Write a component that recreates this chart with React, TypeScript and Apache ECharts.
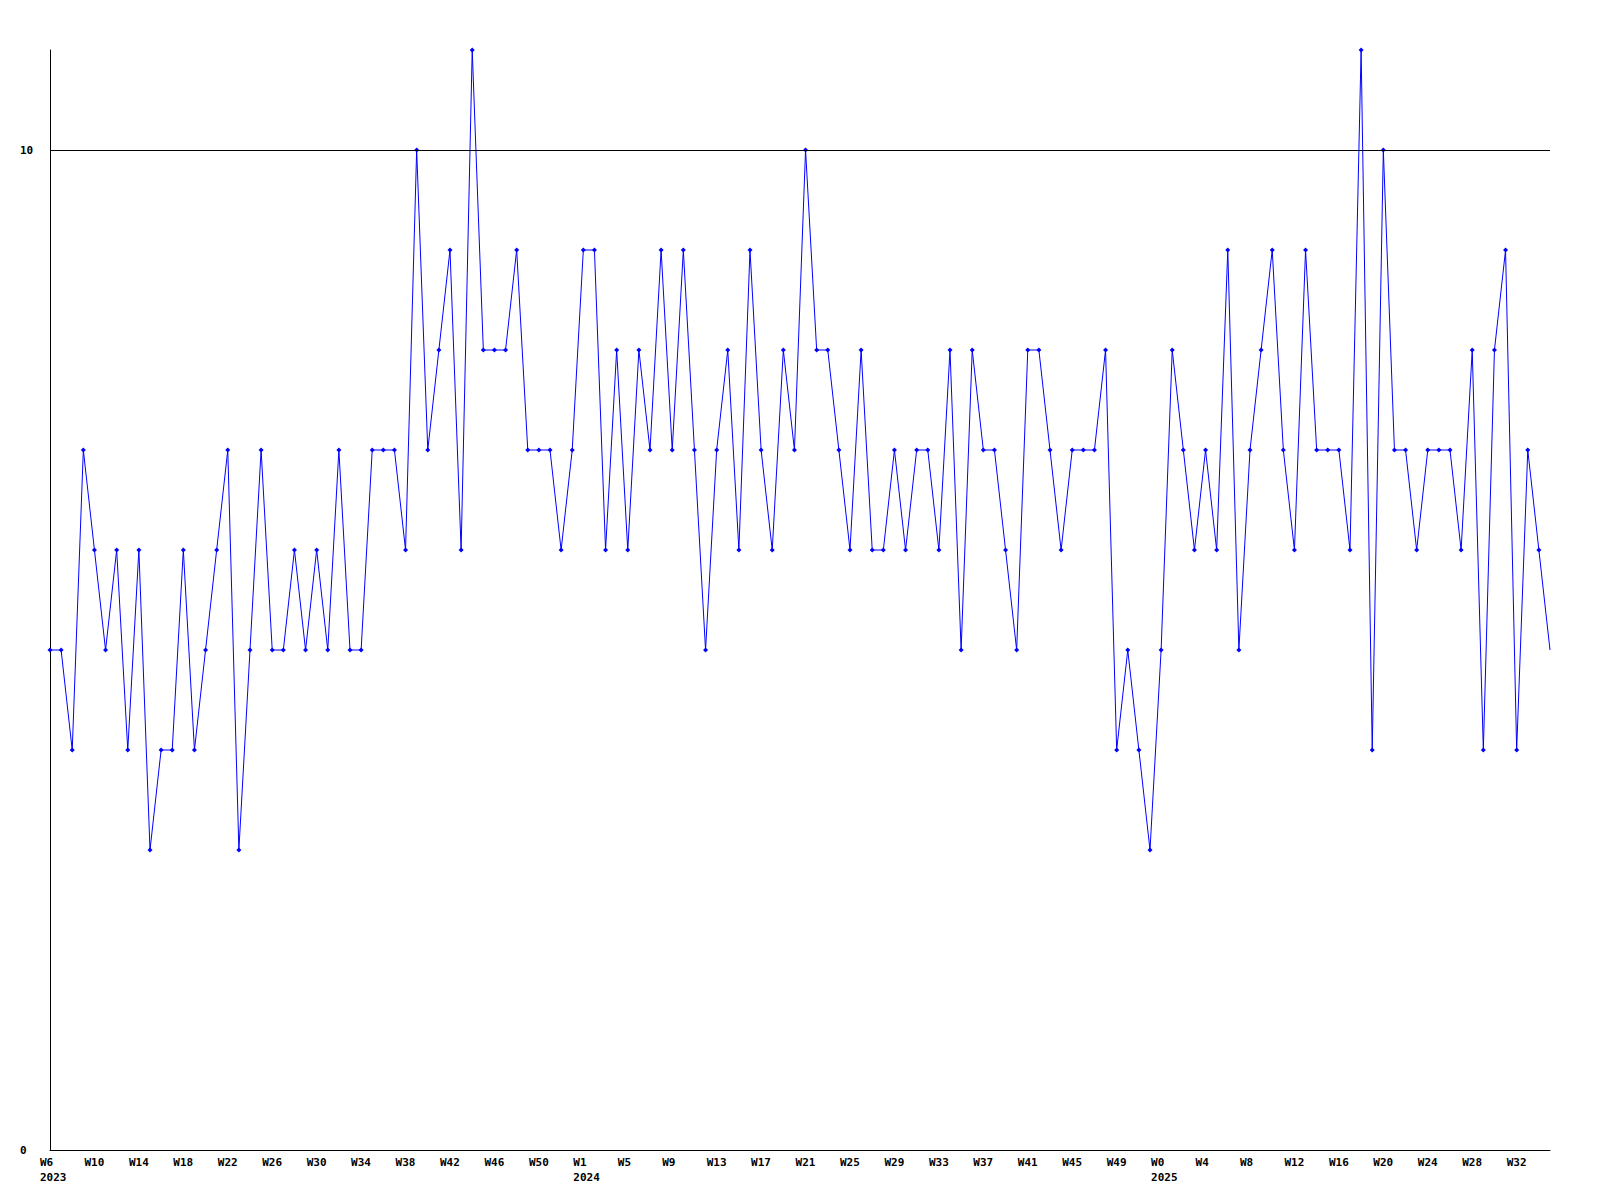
import React, { useEffect, useRef } from "react";
import * as echarts from "echarts";

// Week segments: [year, first week label, number of weeks]
const yearSegments: [number, number, number][] = [
  [2023, 6, 48],
  [2024, 1, 52],
  [2025, 0, 36],
];

const values: number[] = [
  5, 5, 4, 7, 6, 5, 6, 4, 6, 3,
  4, 4, 6, 4, 5, 6, 7, 3, 5, 7,
  5, 5, 6, 5, 6, 5, 7, 5, 5, 7,
  7, 7, 6, 10, 7, 8, 9, 6, 11, 8,
  8, 8, 9, 7, 7, 7, 6, 7, 9, 9,
  6, 8, 6, 8, 7, 9, 7, 9, 7, 5,
  7, 8, 6, 9, 7, 6, 8, 7, 10, 8,
  8, 7, 6, 8, 6, 6, 7, 6, 7, 7,
  6, 8, 5, 8, 7, 7, 6, 5, 8, 8,
  7, 6, 7, 7, 7, 8, 4, 5, 4, 3,
  5, 8, 7, 6, 7, 6, 9, 5, 7, 8,
  9, 7, 6, 9, 7, 7, 7, 6, 11, 4,
  10, 7, 7, 6, 7, 7, 7, 6, 8, 4,
  8, 9, 4, 7, 6, 5,
];

const yTicks: number[] = [0, 10];
const referenceLine = 10;

const categories: string[] = [];
const weekNum: number[] = [];
const yearOf: number[] = [];
yearSegments.forEach(([y, first, n]) => {
  for (let i = 0; i < n; i++) {
    categories.push(`${y}-W${first + i}`);
    weekNum.push(first + i);
    yearOf.push(y);
  }
});

const FONT = "'DejaVu Sans Mono', 'Liberation Mono', monospace";

export default function App() {
  const ref = useRef<HTMLDivElement>(null);
  useEffect(() => {
    if (!ref.current) return;
    const chart = echarts.init(ref.current, null, { renderer: "svg" });
    const data = values.map((v, i) =>
      i === values.length - 1 ? { value: v, symbol: "none" } : v
    );
    chart.setOption({
      animation: false,
      backgroundColor: "#ffffff",
      grid: { left: 50, right: 50, top: 50, bottom: 50, containLabel: false },
      xAxis: {
        type: "category",
        data: categories,
        boundaryGap: false,
        axisLine: { show: true, lineStyle: { color: "#000", width: 1 } },
        axisTick: { show: false },
        splitLine: { show: false },
        axisLabel: {
          interval: 3,
          margin: 5,
          align: "left",
          padding: [0, 0, 0, -10],
          color: "#000",
          fontFamily: FONT,
          fontWeight: "bold",
          fontSize: 11,
          lineHeight: 15,
          formatter: (_v: string, idx: number) => {
            const w = `W${weekNum[idx]}`;
            const firstOfYear = idx === 0 || yearOf[idx - 1] !== yearOf[idx];
            return firstOfYear ? `${w}\n${yearOf[idx]}` : w;
          },
        },
      },
      yAxis: {
        type: "value",
        min: 0,
        max: 11,
        interval: 10,
        axisLine: { show: true, lineStyle: { color: "#000", width: 1 } },
        axisTick: { show: false },
        splitLine: { show: false },
        axisLabel: {
          margin: 30,
          align: "left",
          color: "#000",
          fontFamily: FONT,
          fontWeight: "bold",
          fontSize: 11,
          formatter: (v: number) => (yTicks.includes(v) ? String(v) : ""),
        },
      },
      series: [
        {
          type: "line",
          data,
          color: "#0000ff",
          lineStyle: { color: "#0000ff", width: 1 },
          itemStyle: { color: "#0000ff" },
          symbol: "diamond",
          symbolSize: 5,
          showAllSymbol: true,
          clip: false,
          markLine: {
            silent: true,
            symbol: "none",
            label: { show: false },
            lineStyle: { color: "#000", width: 1, type: "solid" },
            data: [{ yAxis: referenceLine }],
          },
        },
      ],
    });
    return () => chart.dispose();
  }, []);
  return (
    <div
      ref={ref}
      style={{ position: "fixed", left: 0, top: 0, width: 1600, height: 1200, background: "#fff" }}
    />
  );
}
